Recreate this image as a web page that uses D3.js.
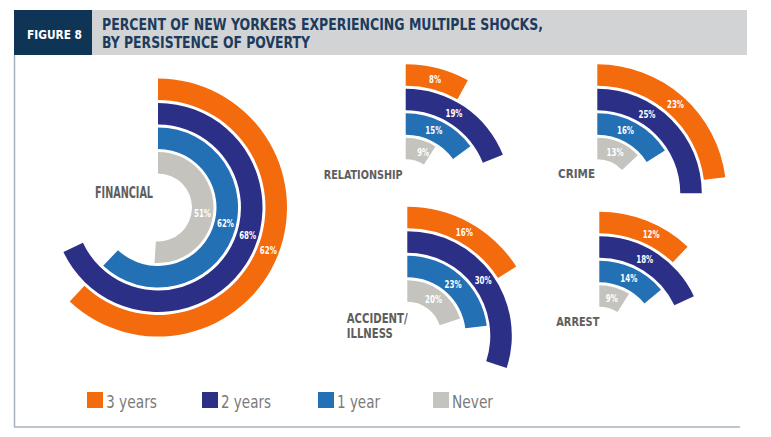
<!DOCTYPE html>
<html>
<head>
<meta charset="utf-8">
<script src="https://cdn.jsdelivr.net/npm/d3@7"></script>
<style>
  html, body { margin: 0; padding: 0; background: #fff; }
  svg { display: block; }
  .cond { font-family: "Liberation Sans Narrow", "DejaVu Sans Condensed", "Liberation Sans", sans-serif; }
</style>
</head>
<body>
<svg id="chart" width="771" height="437"></svg>
<script>
// ---------------- DATA ----------------
const series = ["3 years", "2 years", "1 year", "Never"];
const categories = ["FINANCIAL", "RELATIONSHIP", "CRIME", "ACCIDENT/\nILLNESS", "ARREST"];
// values per category, in series order: 3 years, 2 years, 1 year, Never
const financial    = [62, 68, 62, 51];
const relationship = [8, 19, 15, 9];
const crime        = [23, 25, 16, 13];
const accident     = [16, 30, 23, 20];
const arrest       = [12, 18, 14, 9];
const values = [financial, relationship, crime, accident, arrest];

const titleLines = ["PERCENT OF NEW YORKERS EXPERIENCING MULTIPLE SHOCKS,", "BY PERSISTENCE OF POVERTY"];
const figureLabel = "FIGURE 8";

// ---------------- STYLE / LAYOUT ----------------
const colors = ["#F36B0C", "#2C2F86", "#2470B4", "#C4C3BE"];
const centers = [[158, 207.5], [405.7, 193.3], [597.3, 193.3], [407.3, 335.7], [599.3, 340.7]];
// category label placement relative to centre: [dx, dy, anchor, fontSize]
const catLabelPos = [[-5, -9.8, "end", 15], [-3, -14.3, "end", 12.5], [-2.3, -15.6, "end", 12.5], [-60.6, -12.4, "start", 13.5], [0, -14.7, "end", 12.5]];
const catLabelWidths = [[58], [79], [37], [61, 46], [43]];
// label angles (degrees) per category, series order; null => mid-angle
const labelAngles = [
  [111, 107, 103, 97],
  [null, 31, 24, 23],
  [null, 32, 24, null],
  [null, null, null, null],
  [26, 29, null, null]
];
const legendX = [87, 202, 318, 433];
const legendTextW = [51, 50, 43, 41];

const svg = d3.select("#chart");

// frame lines
svg.append("line").attr("x1", 14.5).attr("x2", 14.5).attr("y1", 55).attr("y2", 427)
  .attr("stroke", "#A8B3BD").attr("stroke-width", 1.5);
svg.append("line").attr("x1", 14).attr("x2", 740).attr("y1", 427).attr("y2", 427)
  .attr("stroke", "#A8B3BD").attr("stroke-width", 1.5);

// header
svg.append("rect").attr("x", 92).attr("y", 10).attr("width", 655).attr("height", 45).attr("fill", "#D2D3D5");
svg.append("rect").attr("x", 14).attr("y", 10).attr("width", 78).attr("height", 45).attr("fill", "#0E3555");
svg.append("text").attr("class", "cond").attr("x", 27).attr("y", 38.5)
  .attr("font-size", 12.5).attr("font-weight", "bold").attr("fill", "#fff")
  .attr("textLength", 55).attr("lengthAdjust", "spacingAndGlyphs").text(figureLabel);
const titleWidths = [441, 208];
titleLines.forEach((t, i) => {
  svg.append("text").attr("class", "cond").attr("x", 102).attr("y", 30 + i * 17.5)
    .attr("font-size", 16.5).attr("font-weight", "bold").attr("fill", "#1D3B5C")
    .attr("textLength", titleWidths[i]).attr("lengthAdjust", "spacingAndGlyphs").text(t);
});

// scales
const angle = d3.scaleLinear().domain([0, 100]).range([0, 2 * Math.PI]);
const ring = d3.scaleBand().domain(series.slice().reverse()).range([34, 129]).paddingInner(0.12);

const arc = d3.arc()
  .innerRadius(d => ring(d.s))
  .outerRadius(d => ring(d.s) + ring.bandwidth())
  .startAngle(0)
  .endAngle(d => angle(d.v));

categories.forEach((cat, ci) => {
  const [cx, cy] = centers[ci];
  const g = svg.append("g").attr("transform", `translate(${cx},${cy})`);
  const data = series.map((s, si) => ({ s, si, v: values[ci][si] }));

  g.selectAll("path").data(data).join("path")
    .attr("d", arc)
    .attr("fill", d => colors[d.si]);

  g.selectAll("text.val").data(data).join("text")
    .attr("class", "val cond")
    .attr("text-anchor", "middle")
    .attr("font-size", 10.5).attr("font-weight", "bold").attr("fill", "#fff")
    .attr("transform", d => {
      const a = labelAngles[ci][d.si] != null ? labelAngles[ci][d.si] * Math.PI / 180 : angle(d.v) / 2;
      const r = ring(d.s) + ring.bandwidth() / 2;
      return `translate(${r * Math.sin(a)},${-r * Math.cos(a) + 3.8})`;
    })
    .attr("textLength", d => d.v < 10 ? 12 : 17).attr("lengthAdjust", "spacingAndGlyphs")
    .text(d => d.v + "%");

  const [dx, dy, anchor, fs] = catLabelPos[ci];
  const lines = cat.split("\n");
  lines.forEach((ln, li) => {
    g.append("text").attr("class", "cond")
      .attr("x", dx).attr("y", dy + li * 15)
      .attr("text-anchor", anchor)
      .attr("font-size", fs).attr("font-weight", "bold").attr("fill", "#5E5E5E")
      .attr("textLength", catLabelWidths[ci][li]).attr("lengthAdjust", "spacingAndGlyphs")
      .text(ln);
  });
});

// legend
const lg = svg.append("g");
series.forEach((s, i) => {
  lg.append("rect").attr("x", legendX[i]).attr("y", 392).attr("width", 16).attr("height", 16).attr("fill", colors[i]);
  lg.append("text").attr("class", "cond").attr("x", legendX[i] + 19).attr("y", 407.5)
    .attr("font-size", 17.5).attr("fill", "#7A7A7A")
    .attr("textLength", legendTextW[i]).attr("lengthAdjust", "spacingAndGlyphs").text(s);
});
</script>
</body>
</html>
